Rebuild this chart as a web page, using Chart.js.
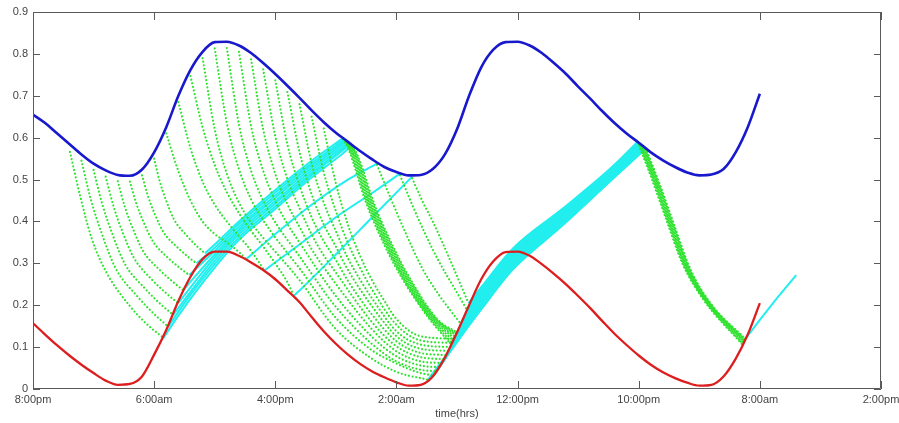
<!DOCTYPE html>
<html>
<head>
<meta charset="utf-8">
<script src="https://cdn.jsdelivr.net/npm/chart.js@4.4.0/dist/chart.umd.min.js"></script>
<style>
  html, body { margin: 0; padding: 0; background: #fff; }
  #wrap { width: 899px; height: 423px; }
</style>
</head>
<body>
<div id="wrap"><canvas id="chart"></canvas></div>
<script>
// ================= DATA =================
// x axis is hours since 8:00pm, ticks every 10 hours
const timeLabels = ['8:00pm', '6:00am', '4:00pm', '2:00am', '12:00pm', '10:00pm', '8:00am', '2:00pm'];

const hours = [0,1,2,3,4,5,6,7,8,9,10,11,12,13,14,15,16,17,18,19,20,21,22,23,24,25,26,27,28,29,
  30,31,32,33,34,35,36,37,38,39,40,41,42,43,44,45,46,47,48,49,50,51,52,53,54,55,56,57,58,59,60];

// upper envelope (blue)
const upperVals = [0.655,0.635,0.61,0.585,0.56,0.538,0.522,0.511,0.509,0.524,0.565,0.625,0.7,0.762,0.805,
  0.828,0.829,0.82,0.802,0.778,0.752,0.724,0.695,0.665,0.637,0.612,0.59,0.568,0.548,0.53,
  0.518,0.51,0.511,0.525,0.56,0.62,0.7,0.768,0.81,0.828,0.829,0.82,0.802,0.778,0.752,
  0.722,0.693,0.663,0.635,0.61,0.588,0.565,0.546,0.53,0.517,0.51,0.512,0.525,0.565,0.625,0.705];

// lower envelope (red)
const lowerVals = [0.157,0.13,0.104,0.08,0.058,0.038,0.02,0.01,0.012,0.03,0.082,0.141,0.21,0.268,0.31,
  0.328,0.328,0.318,0.302,0.284,0.262,0.235,0.207,0.172,0.138,0.108,0.082,0.06,0.042,0.028,
  0.016,0.008,0.01,0.03,0.075,0.135,0.2,0.262,0.305,0.327,0.328,0.318,0.298,0.275,0.25,
  0.222,0.193,0.162,0.132,0.105,0.08,0.058,0.04,0.026,0.015,0.008,0.01,0.03,0.072,0.13,0.205];

// falling runs (green) that end on the rising red branch
const greenRise = [
  [[3.05,0.566],[3.9,0.46],[4.84,0.36],[6.07,0.278],[8.0,0.198],[9.5,0.152],[10.75,0.123]],
  [[4,0.545],[4.79,0.451],[5.68,0.371],[6.79,0.29],[8.65,0.22],[10.0,0.179],[11.16,0.149]],
  [[5,0.523],[5.72,0.441],[6.54,0.371],[7.56,0.30],[9.27,0.239],[10.52,0.203],[11.57,0.177]],
  [[6,0.507],[6.66,0.435],[7.4,0.374],[8.33,0.313],[9.89,0.259],[11.02,0.228],[11.98,0.205]],
  [[7,0.496],[7.59,0.434],[8.26,0.382],[9.1,0.329],[10.5,0.283],[11.54,0.256],[12.4,0.236]],
  [[8,0.495],[8.54,0.442],[9.15,0.397],[9.91,0.352],[11.19,0.312],[12.12,0.289],[12.9,0.272]],
  [[9,0.51],[9.5,0.46],[10.05,0.418],[10.76,0.375],[11.93,0.338],[12.78,0.316],[13.5,0.30]],
  [[10,0.55],[10.46,0.496],[10.98,0.451],[11.64,0.405],[12.73,0.365],[13.53,0.341],[14.2,0.324]]
];

// falling runs that touch the red descending branch
const greenSag = [
  [[11,0.61],[12,0.52],[13,0.45],[14,0.4],[15,0.37],[16,0.35],[17,0.327],[17.6,0.31]],
  [[12,0.685],[13,0.575],[14,0.495],[15,0.44],[16,0.4],[17,0.365],[18,0.33],[19.1,0.283]],
  [[13,0.747],[14,0.625],[15,0.535],[16,0.47],[17,0.42],[18,0.378],[19,0.34],[20,0.3],[21,0.255],[21.5,0.225]]
];

// falling runs that ride above red to the next trough
const greenFan = [
  [[14,0.79],[15,0.62],[16,0.514],[17,0.445],[18,0.397],[19,0.361],[20,0.328],[22,0.26],[25,0.143],[28,0.072],[30,0.041],[31,0.032],[32,0.026],[32.6,0.022]],
  [[15,0.813],[16,0.635],[17,0.525],[18,0.453],[19,0.403],[20,0.362],[22,0.288],[25,0.17],[28,0.092],[30,0.061],[31,0.048],[32,0.038],[33.05,0.032]],
  [[16,0.814],[17,0.632],[18,0.521],[19,0.45],[20,0.398],[22,0.317],[25,0.196],[28,0.107],[30,0.066],[32,0.046],[33.3,0.042]],
  [[17,0.805],[18,0.628],[19,0.521],[20,0.449],[21,0.394],[22,0.35],[25,0.222],[28,0.124],[30,0.078],[32,0.056],[33.55,0.052]],
  [[18,0.787],[19,0.62],[20,0.514],[21,0.441],[22,0.387],[23,0.334],[25,0.251],[28,0.142],[30,0.09],[32,0.066],[33.75,0.062]],
  [[19,0.763],[20,0.604],[21,0.501],[22,0.432],[23,0.369],[24,0.319],[25,0.278],[28,0.159],[30,0.102],[32,0.076],[33.95,0.071]],
  [[20,0.737],[21,0.584],[22,0.486],[23,0.41],[24,0.353],[25,0.308],[26,0.258],[28,0.177],[30,0.114],[32,0.086],[34.12,0.081]],
  [[21,0.709],[22,0.566],[23,0.465],[24,0.393],[25,0.34],[26,0.284],[28,0.197],[30,0.126],[32,0.096],[34.3,0.091]],
  [[22,0.68],[23,0.539],[24,0.445],[25,0.377],[26,0.312],[27,0.261],[28,0.216],[30,0.138],[32,0.106],[34.47,0.1]],
  [[23,0.65],[24,0.517],[25,0.425],[26,0.348],[27,0.289],[28,0.237],[30,0.153],[32,0.116],[34.62,0.11]],
  [[24,0.622],[25,0.491],[26,0.392],[27,0.318],[28,0.259],[29,0.211],[30,0.167],[32,0.126],[34.78,0.12]]
];

// falling runs starting where the lone cyan runs reach blue
const greenLate = [
  [[28.4,0.535],[29.6,0.45],[30.8,0.37],[32.1,0.29],[33.5,0.225],[35.3,0.156]],
  [[30.3,0.51],[31.3,0.44],[32.3,0.375],[33.5,0.305],[34.8,0.24],[35.8,0.19]],
  [[31.3,0.503],[32.2,0.445],[33,0.4],[34.4,0.31],[35.95,0.205]]
];

// dense falling bundle, second day
const greenBand2 = [
  [[25.6,0.597],[26.05,0.572],[27.45,0.448],[28.85,0.353],[30.45,0.265],[32.65,0.17],[34.5,0.107]],
  [[25.71,0.594],[26.16,0.57],[27.56,0.447],[28.96,0.353],[30.56,0.264],[32.76,0.169],[34.59,0.111]],
  [[25.81,0.592],[26.26,0.568],[27.66,0.446],[29.06,0.352],[30.66,0.263],[32.86,0.169],[34.67,0.116]],
  [[25.92,0.59],[26.37,0.566],[27.77,0.444],[29.17,0.351],[30.77,0.262],[32.97,0.168],[34.76,0.121]],
  [[26.03,0.587],[26.48,0.564],[27.88,0.443],[29.28,0.35],[30.88,0.262],[33.08,0.168],[34.84,0.125]],
  [[26.14,0.585],[26.59,0.562],[27.99,0.442],[29.39,0.349],[30.99,0.261],[33.19,0.167],[34.91,0.129]],
  [[26.24,0.583],[26.69,0.56],[28.09,0.441],[29.49,0.349],[31.09,0.261],[33.29,0.167],[34.96,0.132]],
  [[26.35,0.58],[26.8,0.558],[28.2,0.44],[29.6,0.348],[31.2,0.26],[33.4,0.166],[35.0,0.135]]
];

// dense falling bundle, third day
const greenBand3 = [
  [[49.9,0.59],[51.1,0.5],[52.3,0.402],[53.6,0.3],[55.3,0.215],[58.55,0.106]],
  [[50.0,0.588],[51.2,0.498],[52.4,0.4],[53.7,0.298],[55.4,0.214],[58.59,0.108]],
  [[50.1,0.586],[51.3,0.496],[52.5,0.398],[53.8,0.296],[55.5,0.212],[58.63,0.11]],
  [[50.2,0.583],[51.4,0.493],[52.6,0.395],[53.9,0.293],[55.6,0.21],[58.67,0.113]],
  [[50.3,0.581],[51.5,0.491],[52.7,0.393],[54.0,0.291],[55.7,0.208],[58.7,0.115]],
  [[50.4,0.579],[51.6,0.489],[52.8,0.391],[54.1,0.289],[55.8,0.206],[58.73,0.116]],
  [[50.5,0.576],[51.7,0.486],[52.9,0.388],[54.2,0.286],[55.9,0.204],[58.77,0.118]],
  [[50.6,0.574],[51.8,0.484],[53.0,0.386],[54.3,0.284],[56.0,0.202],[58.8,0.12]]
];

// rising runs (cyan), first day bundle
const cyanBand1 = [
  [[10.75,0.121],[12,0.175],[13.5,0.235],[15,0.29],[17,0.356],[20,0.43],[23,0.505],[25.3,0.556],[26.35,0.582]],
  [[11.16,0.149],[12.5,0.205],[15,0.298],[17,0.362],[20,0.436],[23,0.511],[26.24,0.585]],
  [[11.57,0.177],[13,0.232],[15,0.306],[17,0.369],[20,0.443],[23,0.516],[26.14,0.587]],
  [[11.98,0.205],[13.2,0.25],[15,0.314],[17,0.375],[20,0.449],[23,0.522],[26.03,0.589]],
  [[12.4,0.236],[13.6,0.276],[15,0.321],[17,0.381],[20,0.456],[23,0.528],[25.92,0.592]],
  [[12.9,0.272],[14,0.302],[15,0.329],[17,0.387],[20,0.462],[23,0.534],[25.81,0.594]],
  [[13.5,0.3],[15,0.337],[17,0.394],[20,0.469],[23,0.539],[25.71,0.596]],
  [[14.2,0.324],[15,0.345],[17,0.4],[20,0.475],[23,0.545],[25.6,0.599]]
];

// lone rising runs from the red descending branch
const cyanSingles = [
  [[17.6,0.31],[20,0.37],[23,0.44],[26,0.5],[28.4,0.538]],
  [[19.1,0.283],[22,0.345],[25,0.41],[28,0.468],[30.3,0.514]],
  [[21.5,0.222],[22,0.235],[25.3,0.33],[28,0.41],[31.3,0.507]]
];

// rising bundle, second day
const cyanBand2 = [
  [[32.6,0.022],[37,0.19],[39.6,0.285],[43.7,0.39],[47.8,0.5],[50.6,0.574]],
  [[33.05,0.032],[37,0.192],[39.6,0.287],[43.7,0.392],[47.8,0.501],[50.57,0.575]],
  [[33.3,0.042],[37,0.195],[39.6,0.29],[43.7,0.394],[47.8,0.503],[50.53,0.576]],
  [[33.55,0.052],[37,0.198],[39.6,0.292],[43.7,0.396],[47.8,0.504],[50.5,0.576]],
  [[33.75,0.062],[37,0.2],[39.6,0.294],[43.7,0.398],[47.8,0.506],[50.47,0.577]],
  [[33.95,0.071],[37,0.203],[39.6,0.297],[43.7,0.4],[47.8,0.507],[50.43,0.578]],
  [[34.12,0.081],[37,0.205],[39.6,0.299],[43.7,0.401],[47.8,0.509],[50.4,0.579]],
  [[34.3,0.091],[37,0.208],[39.6,0.302],[43.7,0.403],[47.8,0.51],[50.37,0.579]],
  [[34.47,0.1],[37,0.21],[39.6,0.304],[43.7,0.405],[47.8,0.511],[50.33,0.58]],
  [[34.5,0.107],[37,0.213],[39.6,0.306],[43.7,0.407],[47.8,0.513],[50.3,0.581]],
  [[34.59,0.111],[37,0.215],[39.6,0.309],[43.7,0.409],[47.8,0.514],[50.27,0.582]],
  [[34.62,0.11],[37,0.218],[39.6,0.311],[43.7,0.411],[47.8,0.516],[50.23,0.582]],
  [[34.67,0.116],[37,0.22],[39.6,0.314],[43.7,0.413],[47.8,0.517],[50.2,0.583]],
  [[34.76,0.121],[37,0.223],[39.6,0.316],[43.7,0.415],[47.8,0.519],[50.17,0.584]],
  [[34.78,0.12],[37,0.225],[39.6,0.318],[43.7,0.417],[47.8,0.52],[50.13,0.585]],
  [[34.84,0.125],[37,0.228],[39.6,0.321],[43.7,0.419],[47.8,0.521],[50.1,0.585]],
  [[34.91,0.129],[37,0.23],[39.6,0.323],[43.7,0.42],[47.8,0.523],[50.07,0.586]],
  [[34.96,0.132],[37,0.233],[39.6,0.326],[43.7,0.422],[47.8,0.524],[50.03,0.587]],
  [[35.0,0.135],[37,0.235],[39.6,0.328],[43.7,0.424],[47.8,0.526],[50.0,0.588]],
  [[35.3,0.156],[37,0.238],[39.6,0.33],[43.7,0.426],[47.8,0.527],[49.97,0.589]],
  [[35.8,0.19],[37,0.24],[39.6,0.333],[43.7,0.428],[47.8,0.529],[49.93,0.589]],
  [[35.95,0.205],[37,0.243],[39.6,0.335],[43.7,0.43],[47.8,0.53],[49.9,0.59]]
];

// last rising run, third day
const cyanTail = [
  [[58.7,0.116],[60,0.165],[61.5,0.22],[63,0.272]]
];

// ================= STYLE =================
const colors = {
  upper: '#1818cc',
  lower: '#dc1e1e',
  green: '#2fe22f',
  cyan: '#22eeee',
  frame: '#5a5a5a',
  text: '#444'
};

function run(points, color, width, dotted, order) {
  return {
    data: points.map(([x, y]) => ({ x, y })),
    borderColor: color,
    borderWidth: width,
    borderDash: dotted ? [0.01, 3.7] : [],
    borderCapStyle: dotted ? 'round' : 'butt',
    pointRadius: 0,
    cubicInterpolationMode: 'monotone',
    fill: false,
    order
  };
}

const datasets = [
  run(hours.map((h, i) => [h, upperVals[i]]), colors.upper, 2.6, false, 0),
  run(hours.map((h, i) => [h, lowerVals[i]]), colors.lower, 2.3, false, 0)
];
[greenRise, greenSag, greenFan, greenLate, greenBand2, greenBand3].forEach(group =>
  group.forEach(p => datasets.push(run(p, colors.green, 2.2, true, 1))));
[cyanBand1, cyanSingles, cyanBand2, cyanTail].forEach(group =>
  group.forEach(p => datasets.push(run(p, colors.cyan, 2, false, 2))));

// frame with inward tick marks on all four sides
const framePlugin = {
  id: 'frame',
  afterDatasetsDraw(chart) {
    const { ctx, chartArea: a, scales: { x, y } } = chart;
    ctx.save();
    ctx.strokeStyle = colors.frame;
    ctx.lineWidth = 1;
    ctx.beginPath();
    ctx.rect(Math.round(a.left) + 0.5, Math.round(a.top) + 0.5,
      Math.round(a.width) - 1, Math.round(a.height) - 1);
    x.ticks.forEach(t => {
      const px = Math.round(x.getPixelForValue(t.value)) + 0.5;
      ctx.moveTo(px, a.bottom); ctx.lineTo(px, a.bottom - 8);
      ctx.moveTo(px, a.top); ctx.lineTo(px, a.top + 8);
    });
    y.ticks.forEach(t => {
      const py = Math.round(y.getPixelForValue(t.value)) + 0.5;
      ctx.moveTo(a.left, py); ctx.lineTo(a.left + 7, py);
      ctx.moveTo(a.right, py); ctx.lineTo(a.right - 7, py);
    });
    ctx.stroke();
    ctx.restore();
  }
};

const tickFont = { family: 'Liberation Sans', size: 11 };

new Chart(document.getElementById('chart').getContext('2d'), {
  type: 'line',
  data: { datasets },
  options: {
    responsive: true,
    maintainAspectRatio: false,
    animation: false,
    layout: { padding: { top: 12, right: 0, left: 0, bottom: 0 } },
    plugins: {
      legend: { display: false },
      tooltip: { enabled: false }
    },
    scales: {
      x: {
        type: 'linear',
        min: 0,
        max: 70,
        grid: { display: false, drawTicks: false },
        border: { display: false },
        ticks: {
          stepSize: 10,
          autoSkip: false,
          maxRotation: 0,
          padding: 4,
          color: colors.text,
          font: tickFont,
          callback: v => timeLabels[Math.round(v / 10)]
        },
        title: {
          display: true,
          text: 'time(hrs)',
          color: colors.text,
          font: tickFont,
          padding: { top: 0, bottom: 2 }
        },
        afterFit: s => { s.height = 34; s.paddingRight = 18; s.paddingLeft = 0; }
      },
      y: {
        min: 0,
        max: 0.9,
        grid: { display: false, drawTicks: false },
        border: { display: false },
        ticks: {
          stepSize: 0.1,
          padding: 5,
          color: colors.text,
          font: tickFont,
          callback: v => (Math.abs(v) < 1e-9 ? '0' : v.toFixed(1))
        },
        afterFit: s => { s.width = 33; }
      }
    }
  },
  plugins: [framePlugin]
});
</script>
</body>
</html>
